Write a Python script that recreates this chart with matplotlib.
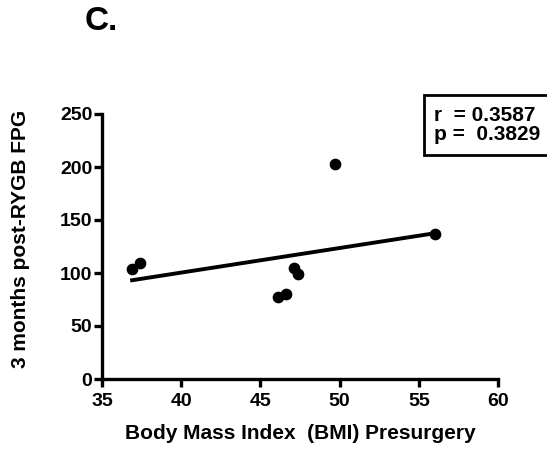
import matplotlib
matplotlib.use("Agg")
import matplotlib.pyplot as plt
import numpy as np

plt.rcParams['font.family'] = ['Liberation Sans', 'DejaVu Sans']
plt.rcParams['font.weight'] = 'bold'

# BMI presurgery vs FPG 3 months post-RYGB
bmi = [36.9, 37.4, 46.1, 46.6, 47.1, 47.4, 49.7, 56.0]
fpg = [103.5, 109, 77.5, 80, 104.5, 99, 202.5, 136.5]

x_ticks = [35, 40, 45, 50, 55, 60]
y_ticks = [0, 50, 100, 150, 200, 250]

fig = plt.figure(figsize=(5.47, 4.5), dpi=100)
ax = fig.add_axes([102 / 547, 1 - 379 / 450, 396 / 547, 265 / 450])

ax.scatter(bmi, fpg, s=55, color='black', zorder=3)

# linear regression line over data range
slope, icpt = np.polyfit(bmi, fpg, 1)
xl = np.array([min(bmi), max(bmi)])
ax.plot(xl, slope * xl + icpt, color='black', lw=2.8)

ax.set_xlim(35, 60)
ax.set_ylim(0, 250)
ax.set_xticks(x_ticks)
ax.set_yticks(y_ticks)
for s in ['top', 'right']:
    ax.spines[s].set_visible(False)
for s in ['left', 'bottom']:
    ax.spines[s].set_linewidth(2.4)
ax.tick_params(width=2.4, length=6, labelsize=14)
ax.tick_params(axis='x', pad=4)
ax.tick_params(axis='y', pad=1)
for lab in ax.get_xticklabels() + ax.get_yticklabels():
    lab.set_fontweight('bold')

ax.set_xlabel('Body Mass Index  (BMI) Presurgery', fontsize=15, fontweight='bold', labelpad=10)
ax.set_ylabel('3 months post-RYGB FPG', fontsize=15, fontweight='bold')
ax.yaxis.set_label_coords(-0.182, 0.53)

fig.text(85 / 547, 1 - 22 / 450, 'C.', fontsize=24, fontweight='bold', va='center')

fig.text(434 / 547, 1 - 125 / 450, 'r  = 0.3587\np =  0.3829', fontsize=15,
         fontweight='bold', va='center', ha='left', linespacing=1.05,
         bbox=dict(boxstyle='square,pad=0.5', fc='white', ec='black', lw=2))

fig.savefig('out.png', dpi=100)
